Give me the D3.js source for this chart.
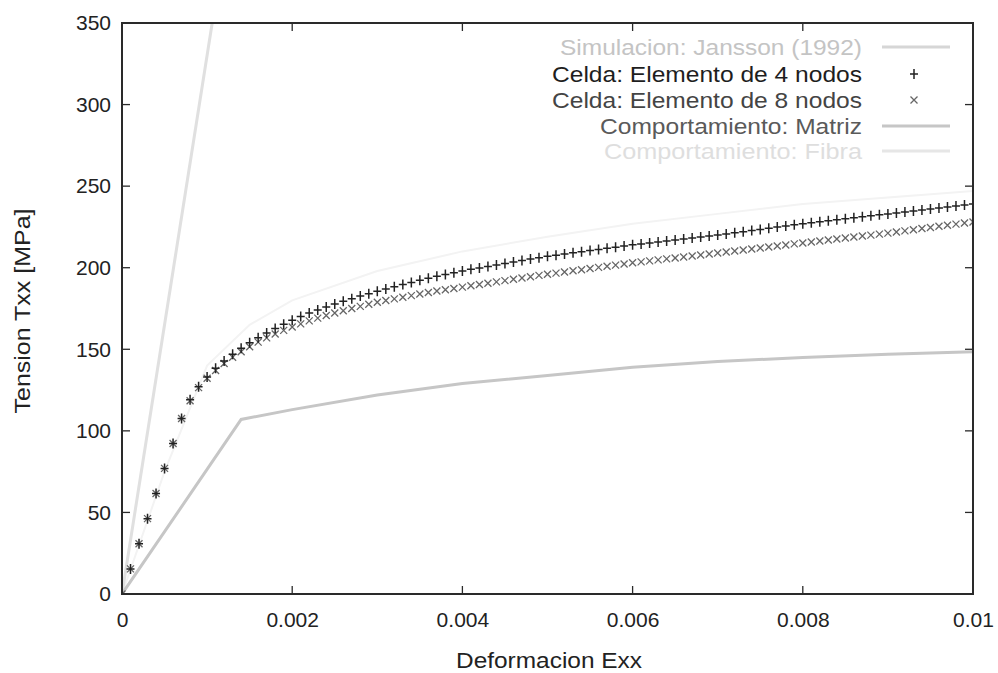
<!DOCTYPE html>
<html>
<head>
<meta charset="utf-8">
<script src="https://cdn.jsdelivr.net/npm/d3@7"></script>
<style>
  body { margin: 0; background: #fff; }
  text { font-family: "Liberation Sans", Arial, Helvetica, sans-serif; }
</style>
</head>
<body>
<svg id="chart" width="998" height="673"></svg>
<script>
// Strain sampling of the unit-cell results (one point every 0.0001)
const cellStrain = d3.range(0, 101).map(i => i / 10000);

// Unit cell, 4-node elements: Txx [MPa]
const cell4 = [
  0, 15.4, 30.8, 46.2, 61.6, 77, 92.3, 107.6, 119, 127, 133,
  138.3, 142.8, 146.9, 150.6, 154, 157.1, 160, 162.8, 165.4, 167.8,
  170.1, 172.2, 174.1, 175.9, 177.7, 179.4, 181, 182.6, 184.1, 185.6,
  187, 188.4, 189.7, 191, 192.3, 193.5, 194.7, 195.8, 196.9, 198,
  199, 199.9, 200.8, 201.7, 202.6, 203.5, 204.4, 205.3, 206.1, 207,
  207.7, 208.4, 209.1, 209.8, 210.5, 211.2, 211.9, 212.6, 213.3, 214,
  214.6, 215.2, 215.8, 216.4, 217, 217.6, 218.2, 218.8, 219.4, 220,
  220.7, 221.4, 222.1, 222.8, 223.5, 224.2, 224.9, 225.6, 226.3, 227,
  227.6, 228.2, 228.8, 229.4, 230, 230.6, 231.2, 231.8, 232.4, 233,
  233.6, 234.2, 234.8, 235.4, 236, 236.6, 237.2, 237.8, 238.4, 239
];

// Unit cell, 8-node elements: Txx [MPa]
const cell8 = [
  0, 15.4, 30.8, 46.2, 61.6, 77, 92.3, 107.6, 118.5, 126.5, 132.2,
  137, 141.3, 145.1, 148.5, 151.6, 154.4, 157, 159.4, 161.6, 163.7,
  165.6, 167.4, 169.1, 170.7, 172.2, 173.6, 175, 176.3, 177.6, 178.8,
  179.9, 180.9, 181.9, 182.9, 183.9, 184.8, 185.7, 186.5, 187.3, 188.1,
  188.9, 189.7, 190.5, 191.3, 192.1, 192.9, 193.7, 194.5, 195.3, 196,
  196.7, 197.4, 198.1, 198.8, 199.5, 200.2, 200.9, 201.6, 202.3, 203,
  203.6, 204.2, 204.8, 205.4, 206, 206.6, 207.2, 207.8, 208.4, 209,
  209.6, 210.2, 210.9, 211.5, 212.1, 212.7, 213.3, 213.9, 214.6, 215.2,
  215.8, 216.4, 217, 217.6, 218.2, 218.8, 219.4, 220, 220.6, 221.2,
  221.9, 222.6, 223.3, 224, 224.7, 225.4, 226, 226.7, 227.4, 228
];

// Matrix constitutive behaviour
const matrixStrain = [0, 0.0014, 0.002, 0.003, 0.004, 0.005, 0.006, 0.007, 0.008, 0.009, 0.01];
const matrixStress = [0, 107, 113, 122, 129, 134, 139, 142.5, 145, 147, 148.5];

// Fibre constitutive behaviour (linear elastic)
const fiberStrain = [0, 0.00106];
const fiberStress = [0, 350];

// Jansson (1992) reference simulation
const janssonStrain = [0, 0.0005, 0.001, 0.0015, 0.002, 0.003, 0.004, 0.005, 0.006, 0.007, 0.008, 0.009, 0.01];
const janssonStress = [0, 75, 140, 165, 180, 198, 210, 219, 227, 233, 239, 243, 247];

// Axis ticks
const xTicks = [0, 0.002, 0.004, 0.006, 0.008, 0.01];
const xTickLabels = ["0", "0.002", "0.004", "0.006", "0.008", "0.01"];
const yTicks = [0, 50, 100, 150, 200, 250, 300, 350];

// Legend entries
const legendLabels = [
  "Simulacion: Jansson (1992)",
  "Celda: Elemento de 4 nodos",
  "Celda: Elemento de 8 nodos",
  "Comportamiento: Matriz",
  "Comportamiento: Fibra"
];

const svg = d3.select("#chart");
const frame = { left: 122, right: 973, top: 23, bottom: 594 };

const x = d3.scaleLinear().domain([0, 0.01]).range([frame.left, frame.right]);
const y = d3.scaleLinear().domain([0, 350]).range([frame.bottom, frame.top]);

svg.append("defs").append("clipPath").attr("id", "plotArea")
  .append("rect").attr("x", frame.left).attr("y", frame.top)
  .attr("width", frame.right - frame.left).attr("height", frame.bottom - frame.top);

const plot = svg.append("g").attr("clip-path", "url(#plotArea)");
const line = d3.line().x(d => x(d[0])).y(d => y(d[1]));

// Reference simulation (very light)
plot.append("path")
  .datum(janssonStrain.map((s, i) => [s, janssonStress[i]]))
  .attr("d", line).attr("fill", "none")
  .attr("stroke", "#f3f3f3").attr("stroke-width", 2);

// Fibre
plot.append("path")
  .datum(fiberStrain.map((s, i) => [s, fiberStress[i]]))
  .attr("d", line).attr("fill", "none")
  .attr("stroke", "#e0e0e0").attr("stroke-width", 3);

// Matrix
plot.append("path")
  .datum(matrixStrain.map((s, i) => [s, matrixStress[i]]))
  .attr("d", line).attr("fill", "none")
  .attr("stroke", "#c6c6c6").attr("stroke-width", 3);

const plusPath = "M-4,0H4M0,-5V5";
const crossPath = "M-3.5,-3.5L3.5,3.5M-3.5,3.5L3.5,-3.5";

// 8-node cell results (x markers)
plot.append("g").selectAll("path")
  .data(cellStrain.map((s, i) => [s, cell8[i]]))
  .join("path")
  .attr("transform", d => `translate(${x(d[0])},${y(d[1])})`)
  .attr("d", crossPath).attr("fill", "none")
  .attr("stroke", "#666").attr("stroke-width", 1.3);

// 4-node cell results (+ markers)
plot.append("g").selectAll("path")
  .data(cellStrain.map((s, i) => [s, cell4[i]]))
  .join("path")
  .attr("transform", d => `translate(${x(d[0])},${y(d[1])})`)
  .attr("d", plusPath).attr("fill", "none")
  .attr("stroke", "#222").attr("stroke-width", 1.5);

// Axes: labels outside, ticks pointing inward, mirrored on top/right
const axisColor = "#2a2a2a";
const xAxis = svg.append("g").attr("transform", `translate(0,${frame.bottom})`)
  .call(d3.axisBottom(x).tickValues(xTicks).tickSize(0).tickPadding(18)
    .tickFormat((d, i) => xTickLabels[i]));
const yAxis = svg.append("g").attr("transform", `translate(${frame.left},0)`)
  .call(d3.axisLeft(y).tickValues(yTicks).tickSize(0).tickPadding(11));
[xAxis, yAxis].forEach(g => {
  g.select(".domain").remove();
  g.selectAll("text").attr("font-size", 21).attr("fill", "#222")
    .attr("font-family", "Liberation Sans, Arial, sans-serif");
});

const ticks = svg.append("g").attr("stroke", axisColor).attr("stroke-width", 1.3);
xTicks.slice(1, -1).forEach(t => {
  ticks.append("line").attr("x1", x(t)).attr("x2", x(t)).attr("y1", frame.bottom).attr("y2", frame.bottom - 8);
  ticks.append("line").attr("x1", x(t)).attr("x2", x(t)).attr("y1", frame.top).attr("y2", frame.top + 8);
});
yTicks.slice(1, -1).forEach(t => {
  ticks.append("line").attr("x1", frame.left).attr("x2", frame.left + 8).attr("y1", y(t)).attr("y2", y(t));
  ticks.append("line").attr("x1", frame.right).attr("x2", frame.right - 8).attr("y1", y(t)).attr("y2", y(t));
});

// Border
svg.append("rect").attr("x", frame.left).attr("y", frame.top)
  .attr("width", frame.right - frame.left).attr("height", frame.bottom - frame.top)
  .attr("fill", "none").attr("stroke", axisColor).attr("stroke-width", 2);

// Axis titles
svg.append("text").attr("x", 549).attr("y", 668).attr("text-anchor", "middle")
  .attr("font-size", 22).attr("fill", "#222")
  .attr("textLength", 186).attr("lengthAdjust", "spacingAndGlyphs")
  .text("Deformacion Exx");
svg.append("text").attr("transform", "translate(30,311) rotate(-90)")
  .attr("text-anchor", "middle").attr("font-size", 22).attr("fill", "#222")
  .attr("textLength", 205).attr("lengthAdjust", "spacingAndGlyphs")
  .text("Tension Txx [MPa]");

// Legend
const legendY = [47, 74, 100, 126, 151];
const legendText = ["#c4c4c4", "#1e1e1e", "#444", "#5a5a5a", "#dedede"];
const legendWidth = [302, 310, 310, 262, 258];
const legend = svg.append("g");
legendLabels.forEach((lbl, i) => {
  legend.append("text").attr("x", 862).attr("y", legendY[i] + 8)
    .attr("text-anchor", "end").attr("font-size", 22)
    .attr("textLength", legendWidth[i]).attr("lengthAdjust", "spacingAndGlyphs")
    .attr("fill", legendText[i]).text(lbl);
});
legend.append("line").attr("x1", 882).attr("x2", 950).attr("y1", legendY[0]).attr("y2", legendY[0])
  .attr("stroke", "#d6d6d6").attr("stroke-width", 3);
legend.append("path").attr("transform", `translate(914,${legendY[1]})`).attr("d", plusPath)
  .attr("fill", "none").attr("stroke", "#222").attr("stroke-width", 1.5);
legend.append("path").attr("transform", `translate(914,${legendY[2]})`).attr("d", crossPath)
  .attr("fill", "none").attr("stroke", "#666").attr("stroke-width", 1.3);
legend.append("line").attr("x1", 882).attr("x2", 950).attr("y1", legendY[3]).attr("y2", legendY[3])
  .attr("stroke", "#c6c6c6").attr("stroke-width", 3);
legend.append("line").attr("x1", 882).attr("x2", 950).attr("y1", legendY[4]).attr("y2", legendY[4])
  .attr("stroke", "#e6e6e6").attr("stroke-width", 3);
</script>
</body>
</html>
